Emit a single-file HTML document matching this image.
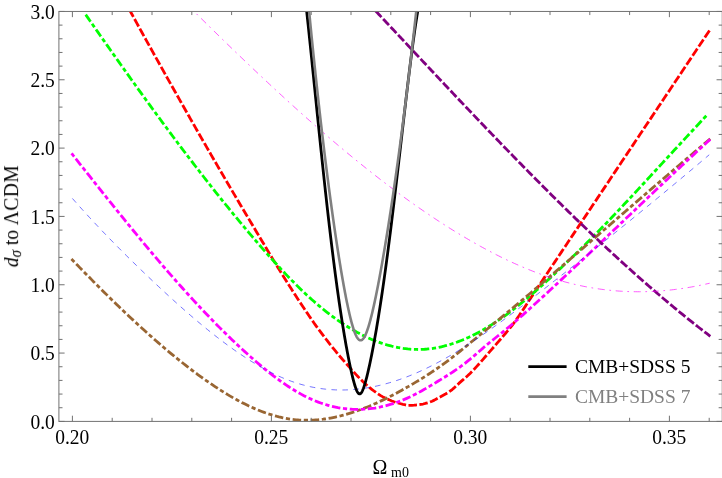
<!DOCTYPE html>
<html><head><meta charset="utf-8"><title>plot</title>
<style>html,body{margin:0;padding:0;background:#fff;}body{width:722px;height:478px;overflow:hidden;}svg{display:block;}text{font-family:"Liberation Serif",serif;fill:#000;}.t{filter:grayscale(1);}</style></head><body>
<svg width="722" height="478" viewBox="0 0 722 478">
<rect width="722" height="478" fill="#fff"/>
<defs><clipPath id="c"><rect x="58.9" y="11.45" width="663.35" height="409.95"/></clipPath></defs>
<g clip-path="url(#c)" fill="none" stroke-linejoin="round">
<path d="M130.38,11.45 L132.62,15.52 L134.85,19.59 L137.09,23.65 L139.32,27.71 L141.56,31.76 L143.79,35.80 L146.03,39.83 L148.26,43.86 L150.50,47.88 L152.73,51.90 L154.97,55.91 L157.20,59.92 L159.43,63.92 L161.67,67.91 L163.90,71.90 L166.14,75.88 L168.37,79.86 L170.61,83.83 L172.84,87.80 L175.08,91.76 L177.31,95.71 L179.55,99.66 L181.78,103.61 L184.02,107.55 L186.25,111.48 L188.49,115.41 L190.72,119.34 L192.96,123.26 L195.19,127.17 L197.43,131.07 L199.66,134.97 L201.90,138.86 L204.13,142.74 L206.37,146.61 L208.60,150.48 L210.84,154.34 L213.07,158.20 L215.31,162.05 L217.54,165.89 L219.77,169.72 L222.01,173.55 L224.24,177.38 L226.48,181.20 L228.71,185.01 L230.95,188.82 L233.18,192.61 L235.42,196.40 L237.65,200.18 L239.89,203.95 L242.12,207.71 L244.36,211.47 L246.59,215.22 L248.83,218.96 L251.06,222.71 L253.30,226.45 L255.53,230.19 L257.77,233.93 L260.00,237.66 L262.24,241.41 L264.47,245.16 L266.71,248.92 L268.94,252.67 L271.18,256.41 L273.41,260.11 L275.65,263.77 L277.88,267.40 L280.11,271.01 L282.35,274.60 L284.58,278.19 L286.82,281.75 L289.05,285.30 L291.29,288.83 L293.52,292.33 L295.76,295.80 L297.99,299.25 L300.23,302.67 L302.46,306.05 L304.70,309.40 L306.93,312.72 L309.17,316.01 L311.40,319.25 L313.64,322.45 L315.87,325.59 L318.11,328.66 L320.34,331.66 L322.58,334.63 L324.81,337.56 L327.05,340.47 L329.28,343.33 L331.52,346.15 L333.75,348.94 L335.99,351.67 L338.22,354.36 L340.46,357.00 L342.69,359.58 L344.92,362.12 L347.16,364.65 L349.39,367.18 L351.63,369.69 L353.86,372.16 L356.10,374.59 L358.33,376.96 L360.57,379.26 L362.80,381.47 L365.04,383.59 L367.27,385.61 L369.51,387.50 L371.74,389.29 L373.98,391.01 L376.21,392.65 L378.45,394.19 L380.68,395.61 L382.92,396.89 L385.15,398.02 L387.39,399.08 L389.62,400.07 L391.86,400.98 L394.09,401.80 L396.33,402.51 L398.56,403.13 L400.80,403.75 L403.03,404.34 L405.26,404.85 L407.50,405.22 L409.73,405.39 L411.97,405.36 L414.20,405.22 L416.44,405.02 L418.67,404.78 L420.91,404.46 L423.14,404.01 L425.38,403.45 L427.61,402.82 L429.85,402.12 L432.08,401.23 L434.32,400.13 L436.55,398.91 L438.79,397.68 L441.02,396.49 L443.26,395.29 L445.49,394.04 L447.73,392.71 L449.96,391.24 L452.20,389.54 L454.43,387.58 L456.67,385.49 L458.90,383.39 L461.14,381.40 L463.37,379.48 L465.60,377.55 L467.84,375.55 L470.07,373.43 L472.31,371.19 L474.54,368.85 L476.78,366.42 L479.01,363.93 L481.25,361.40 L483.48,358.83 L485.72,356.26 L487.95,353.68 L490.19,351.13 L492.42,348.58 L494.66,346.02 L496.89,343.44 L499.13,340.85 L501.36,338.24 L503.60,335.62 L505.83,332.98 L508.07,330.33 L510.30,327.68 L512.54,324.81 L514.77,321.79 L517.01,318.66 L519.24,315.43 L521.48,312.13 L523.71,308.77 L525.94,305.37 L528.18,301.95 L530.41,298.52 L532.65,295.10 L534.88,291.72 L537.12,288.38 L539.35,285.05 L541.59,281.71 L543.82,278.36 L546.06,275.02 L548.29,271.68 L550.53,268.34 L552.76,264.99 L555.00,261.65 L557.23,258.31 L559.47,254.96 L561.70,251.62 L563.94,248.27 L566.17,244.93 L568.41,241.58 L570.64,238.24 L572.88,234.90 L575.11,231.56 L577.35,228.22 L579.58,224.88 L581.82,221.54 L584.05,218.20 L586.29,214.86 L588.52,211.51 L590.75,208.17 L592.99,204.83 L595.22,201.48 L597.46,198.14 L599.69,194.80 L601.93,191.45 L604.16,188.11 L606.40,184.76 L608.63,181.41 L610.87,178.07 L613.10,174.72 L615.34,171.38 L617.57,168.03 L619.81,164.69 L622.04,161.34 L624.28,158.00 L626.51,154.65 L628.75,151.31 L630.98,147.97 L633.22,144.62 L635.45,141.28 L637.69,137.93 L639.92,134.59 L642.16,131.24 L644.39,127.90 L646.63,124.55 L648.86,121.21 L651.09,117.86 L653.33,114.52 L655.56,111.17 L657.80,107.83 L660.03,104.48 L662.27,101.14 L664.50,97.79 L666.74,94.45 L668.97,91.10 L671.21,87.76 L673.44,84.41 L675.68,81.07 L677.91,77.72 L680.15,74.38 L682.38,71.03 L684.62,67.69 L686.85,64.35 L689.09,61.00 L691.32,57.66 L693.56,54.31 L695.79,50.97 L698.03,47.62 L700.26,44.28 L702.50,40.93 L704.73,37.59 L706.97,34.24 L709.20,30.90" stroke="#ff0000" stroke-width="2.8" stroke-linecap="square" stroke-dasharray="5.7 5.25" stroke-dashoffset="0.9"/>
<path d="M83.50,11.45 L85.90,14.91 L88.30,18.37 L90.71,21.83 L93.11,25.28 L95.51,28.72 L97.91,32.16 L100.31,35.60 L102.72,39.03 L105.12,42.46 L107.52,45.88 L109.92,49.30 L112.32,52.71 L114.73,56.11 L117.13,59.51 L119.53,62.91 L121.93,66.29 L124.33,69.67 L126.74,73.05 L129.14,76.42 L131.54,79.78 L133.94,83.13 L136.34,86.48 L138.74,89.82 L141.15,93.16 L143.55,96.48 L145.95,99.80 L148.35,103.11 L150.75,106.41 L153.16,109.71 L155.56,112.99 L157.96,116.27 L160.36,119.54 L162.76,122.80 L165.17,126.05 L167.57,129.29 L169.97,132.53 L172.37,135.75 L174.77,138.97 L177.18,142.17 L179.58,145.37 L181.98,148.55 L184.38,151.73 L186.78,154.89 L189.19,158.05 L191.59,161.19 L193.99,164.32 L196.39,167.45 L198.79,170.56 L201.20,173.66 L203.60,176.75 L206.00,179.83 L208.40,182.89 L210.80,185.95 L213.20,188.99 L215.61,192.02 L218.01,195.04 L220.41,198.04 L222.81,201.03 L225.21,204.01 L227.62,206.98 L230.02,209.94 L232.42,212.88 L234.82,215.81 L237.22,218.72 L239.63,221.62 L242.03,224.51 L244.43,227.38 L246.83,230.24 L249.23,233.09 L251.64,235.92 L254.04,238.73 L256.44,241.53 L258.84,244.32 L261.24,247.09 L263.65,249.84 L266.05,252.57 L268.45,255.29 L270.85,257.98 L273.25,260.65 L275.65,263.29 L278.06,265.92 L280.46,268.51 L282.86,271.08 L285.26,273.63 L287.66,276.14 L290.07,278.62 L292.47,281.08 L294.87,283.50 L297.27,285.88 L299.67,288.24 L302.08,290.55 L304.48,292.83 L306.88,295.08 L309.28,297.28 L311.68,299.45 L314.09,301.57 L316.49,303.65 L318.89,305.69 L321.29,307.69 L323.69,309.64 L326.10,311.55 L328.50,313.42 L330.90,315.25 L333.30,317.03 L335.70,318.77 L338.10,320.46 L340.51,322.11 L342.91,323.72 L345.31,325.28 L347.71,326.80 L350.11,328.27 L352.52,329.70 L354.92,331.08 L357.32,332.41 L359.72,333.70 L362.12,334.94 L364.53,336.13 L366.93,337.27 L369.33,338.37 L371.73,339.41 L374.13,340.41 L376.54,341.36 L378.94,342.25 L381.34,343.10 L383.74,343.90 L386.14,344.64 L388.55,345.33 L390.95,345.97 L393.35,346.56 L395.75,347.10 L398.15,347.58 L400.56,348.01 L402.96,348.38 L405.36,348.70 L407.76,348.97 L410.16,349.18 L412.56,349.33 L414.97,349.43 L417.37,349.48 L419.77,349.46 L422.17,349.39 L424.57,349.26 L426.98,349.07 L429.38,348.83 L431.78,348.53 L434.18,348.17 L436.58,347.76 L438.99,347.29 L441.39,346.77 L443.79,346.20 L446.19,345.57 L448.59,344.90 L451.00,344.17 L453.40,343.39 L455.80,342.56 L458.20,341.68 L460.60,340.75 L463.01,339.78 L465.41,338.75 L467.81,337.69 L470.21,336.57 L472.61,335.41 L475.01,334.21 L477.42,332.96 L479.82,331.67 L482.22,330.33 L484.62,328.96 L487.02,327.54 L489.43,326.08 L491.83,324.58 L494.23,323.05 L496.63,321.47 L499.03,319.85 L501.44,318.20 L503.84,316.51 L506.24,314.78 L508.64,313.02 L511.04,311.22 L513.45,309.39 L515.85,307.52 L518.25,305.63 L520.65,303.70 L523.05,301.74 L525.46,299.76 L527.86,297.74 L530.26,295.70 L532.66,293.64 L535.06,291.55 L537.47,289.45 L539.87,287.32 L542.27,285.17 L544.67,283.00 L547.07,280.82 L549.47,278.62 L551.88,276.40 L554.28,274.17 L556.68,271.93 L559.08,269.68 L561.48,267.42 L563.89,265.15 L566.29,262.87 L568.69,260.58 L571.09,258.28 L573.49,255.97 L575.90,253.65 L578.30,251.32 L580.70,248.97 L583.10,246.61 L585.50,244.24 L587.91,241.85 L590.31,239.46 L592.71,237.04 L595.11,234.61 L597.51,232.17 L599.92,229.72 L602.32,227.25 L604.72,224.77 L607.12,222.28 L609.52,219.78 L611.92,217.27 L614.33,214.75 L616.73,212.22 L619.13,209.68 L621.53,207.14 L623.93,204.58 L626.34,202.02 L628.74,199.45 L631.14,196.88 L633.54,194.30 L635.94,191.71 L638.35,189.12 L640.75,186.53 L643.15,183.93 L645.55,181.33 L647.95,178.72 L650.36,176.12 L652.76,173.51 L655.16,170.90 L657.56,168.29 L659.96,165.69 L662.37,163.08 L664.77,160.47 L667.17,157.87 L669.57,155.26 L671.97,152.66 L674.37,150.06 L676.78,147.47 L679.18,144.87 L681.58,142.28 L683.98,139.69 L686.38,137.11 L688.79,134.52 L691.19,131.95 L693.59,129.37 L695.99,126.80 L698.39,124.23 L700.80,121.66 L703.20,119.10 L705.60,116.54" stroke="#00ff00" stroke-width="2.8" stroke-linecap="square" stroke-dasharray="1.4 5.47 5.7 5.47" stroke-dashoffset="1.6"/>
<path d="M72.40,260.03 L74.86,262.57 L77.32,265.10 L79.78,267.62 L82.23,270.14 L84.69,272.64 L87.15,275.15 L89.61,277.64 L92.07,280.12 L94.53,282.60 L96.99,285.07 L99.45,287.53 L101.90,289.98 L104.36,292.42 L106.82,294.84 L109.28,297.26 L111.74,299.67 L114.20,302.07 L116.66,304.45 L119.12,306.82 L121.57,309.18 L124.03,311.53 L126.49,313.87 L128.95,316.19 L131.41,318.50 L133.87,320.79 L136.33,323.07 L138.78,325.34 L141.24,327.59 L143.70,329.83 L146.16,332.05 L148.62,334.25 L151.08,336.44 L153.54,338.61 L156.00,340.77 L158.45,342.90 L160.91,345.02 L163.37,347.13 L165.83,349.21 L168.29,351.28 L170.75,353.33 L173.21,355.35 L175.66,357.36 L178.12,359.35 L180.58,361.32 L183.04,363.27 L185.50,365.20 L187.96,367.11 L190.42,368.99 L192.88,370.86 L195.33,372.70 L197.79,374.52 L200.25,376.31 L202.71,378.09 L205.17,379.84 L207.63,381.56 L210.09,383.26 L212.55,384.93 L215.00,386.58 L217.46,388.20 L219.92,389.79 L222.38,391.34 L224.84,392.87 L227.30,394.37 L229.76,395.83 L232.21,397.26 L234.67,398.65 L237.13,400.01 L239.59,401.34 L242.05,402.62 L244.51,403.87 L246.97,405.08 L249.43,406.25 L251.88,407.38 L254.34,408.47 L256.80,409.52 L259.26,410.52 L261.72,411.48 L264.18,412.39 L266.64,413.26 L269.09,414.08 L271.55,414.85 L274.01,415.58 L276.47,416.25 L278.93,416.88 L281.39,417.45 L283.85,417.98 L286.31,418.45 L288.76,418.86 L291.22,419.22 L293.68,419.53 L296.14,419.78 L298.60,419.98 L301.06,420.12 L303.52,420.22 L305.98,420.26 L308.43,420.25 L310.89,420.19 L313.35,420.09 L315.81,419.93 L318.27,419.73 L320.73,419.48 L323.19,419.19 L325.64,418.85 L328.10,418.46 L330.56,418.03 L333.02,417.56 L335.48,417.05 L337.94,416.50 L340.40,415.91 L342.86,415.27 L345.31,414.60 L347.77,413.89 L350.23,413.14 L352.69,412.36 L355.15,411.54 L357.61,410.68 L360.07,409.79 L362.53,408.87 L364.98,407.91 L367.44,406.93 L369.90,405.91 L372.36,404.86 L374.82,403.78 L377.28,402.67 L379.74,401.54 L382.19,400.37 L384.65,399.19 L387.11,397.97 L389.57,396.73 L392.03,395.46 L394.49,394.18 L396.95,392.87 L399.41,391.53 L401.86,390.18 L404.32,388.80 L406.78,387.41 L409.24,386.00 L411.70,384.57 L414.16,383.12 L416.62,381.65 L419.07,380.16 L421.53,378.65 L423.99,377.12 L426.45,375.56 L428.91,373.98 L431.37,372.37 L433.83,370.73 L436.29,369.06 L438.74,367.36 L441.20,365.63 L443.66,363.86 L446.12,362.06 L448.58,360.22 L451.04,358.35 L453.50,356.44 L455.96,354.50 L458.41,352.54 L460.87,350.56 L463.33,348.57 L465.79,346.56 L468.25,344.54 L470.71,342.53 L473.17,340.51 L475.62,338.50 L478.08,336.49 L480.54,334.48 L483.00,332.47 L485.46,330.47 L487.92,328.46 L490.38,326.45 L492.84,324.44 L495.29,322.43 L497.75,320.42 L500.21,318.40 L502.67,316.37 L505.13,314.34 L507.59,312.30 L510.05,310.26 L512.51,308.20 L514.96,306.14 L517.42,304.08 L519.88,302.01 L522.34,299.94 L524.80,297.86 L527.26,295.78 L529.72,293.70 L532.17,291.62 L534.63,289.53 L537.09,287.44 L539.55,285.35 L542.01,283.25 L544.47,281.16 L546.93,279.06 L549.39,276.96 L551.84,274.86 L554.30,272.75 L556.76,270.64 L559.22,268.54 L561.68,266.43 L564.14,264.31 L566.60,262.20 L569.05,260.09 L571.51,257.97 L573.97,255.85 L576.43,253.73 L578.89,251.61 L581.35,249.49 L583.81,247.37 L586.27,245.25 L588.72,243.13 L591.18,241.00 L593.64,238.88 L596.10,236.75 L598.56,234.63 L601.02,232.50 L603.48,230.37 L605.94,228.25 L608.39,226.12 L610.85,223.99 L613.31,221.86 L615.77,219.74 L618.23,217.61 L620.69,215.48 L623.15,213.35 L625.60,211.23 L628.06,209.10 L630.52,206.98 L632.98,204.85 L635.44,202.73 L637.90,200.60 L640.36,198.48 L642.82,196.36 L645.27,194.24 L647.73,192.12 L650.19,190.00 L652.65,187.88 L655.11,185.77 L657.57,183.65 L660.03,181.54 L662.48,179.43 L664.94,177.32 L667.40,175.21 L669.86,173.11 L672.32,171.00 L674.78,168.90 L677.24,166.80 L679.70,164.70 L682.15,162.61 L684.61,160.51 L687.07,158.42 L689.53,156.33 L691.99,154.25 L694.45,152.16 L696.91,150.08 L699.37,148.00 L701.82,145.93 L704.28,143.85 L706.74,141.78 L709.20,139.72" stroke="#996633" stroke-width="2.8" stroke-linecap="square" stroke-dasharray="1.4 5.47 5.7 5.47"/>
<path d="M72.40,154.40 L74.86,157.52 L77.32,160.64 L79.78,163.76 L82.23,166.88 L84.69,169.99 L87.15,173.10 L89.61,176.21 L92.07,179.31 L94.53,182.41 L96.99,185.51 L99.45,188.60 L101.90,191.69 L104.36,194.77 L106.82,197.85 L109.28,200.92 L111.74,203.99 L114.20,207.05 L116.66,210.10 L119.12,213.14 L121.57,216.18 L124.03,219.21 L126.49,222.23 L128.95,225.25 L131.41,228.25 L133.87,231.25 L136.33,234.23 L138.78,237.21 L141.24,240.18 L143.70,243.13 L146.16,246.08 L148.62,249.01 L151.08,251.94 L153.54,254.85 L156.00,257.75 L158.45,260.64 L160.91,263.51 L163.37,266.37 L165.83,269.22 L168.29,272.06 L170.75,274.88 L173.21,277.69 L175.66,280.48 L178.12,283.26 L180.58,286.02 L183.04,288.77 L185.50,291.50 L187.96,294.21 L190.42,296.91 L192.88,299.59 L195.33,302.25 L197.79,304.90 L200.25,307.53 L202.71,310.14 L205.17,312.73 L207.63,315.30 L210.09,317.85 L212.55,320.39 L215.00,322.90 L217.46,325.40 L219.92,327.87 L222.38,330.32 L224.84,332.75 L227.30,335.16 L229.76,337.55 L232.21,339.92 L234.67,342.26 L237.13,344.58 L239.59,346.88 L242.05,349.15 L244.51,351.40 L246.97,353.63 L249.43,355.83 L251.88,358.00 L254.34,360.15 L256.80,362.28 L259.26,364.38 L261.72,366.44 L264.18,368.48 L266.64,370.48 L269.09,372.45 L271.55,374.38 L274.01,376.28 L276.47,378.13 L278.93,379.95 L281.39,381.72 L283.85,383.44 L286.31,385.12 L288.76,386.76 L291.22,388.34 L293.68,389.87 L296.14,391.36 L298.60,392.78 L301.06,394.15 L303.52,395.47 L305.98,396.72 L308.43,397.91 L310.89,399.05 L313.35,400.12 L315.81,401.14 L318.27,402.09 L320.73,402.98 L323.19,403.82 L325.64,404.60 L328.10,405.31 L330.56,405.97 L333.02,406.57 L335.48,407.11 L337.94,407.60 L340.40,408.02 L342.86,408.39 L345.31,408.70 L347.77,408.96 L350.23,409.15 L352.69,409.29 L355.15,409.38 L357.61,409.40 L360.07,409.37 L362.53,409.29 L364.98,409.14 L367.44,408.95 L369.90,408.69 L372.36,408.38 L374.82,408.02 L377.28,407.60 L379.74,407.13 L382.19,406.60 L384.65,406.02 L387.11,405.38 L389.57,404.69 L392.03,403.95 L394.49,403.15 L396.95,402.30 L399.41,401.39 L401.86,400.43 L404.32,399.42 L406.78,398.36 L409.24,397.25 L411.70,396.08 L414.16,394.86 L416.62,393.59 L419.07,392.29 L421.53,390.94 L423.99,389.55 L426.45,388.14 L428.91,386.70 L431.37,385.24 L433.83,383.77 L436.29,382.28 L438.74,380.78 L441.20,379.28 L443.66,377.76 L446.12,376.24 L448.58,374.69 L451.04,373.11 L453.50,371.50 L455.96,369.85 L458.41,368.14 L460.87,366.39 L463.33,364.57 L465.79,362.68 L468.25,360.71 L470.71,358.68 L473.17,356.59 L475.62,354.47 L478.08,352.33 L480.54,350.19 L483.00,348.07 L485.46,345.98 L487.92,343.93 L490.38,341.93 L492.84,339.95 L495.29,337.99 L497.75,336.03 L500.21,334.07 L502.67,332.09 L505.13,330.08 L507.59,328.04 L510.05,325.98 L512.51,323.89 L514.96,321.78 L517.42,319.65 L519.88,317.50 L522.34,315.33 L524.80,313.14 L527.26,310.94 L529.72,308.73 L532.17,306.51 L534.63,304.28 L537.09,302.04 L539.55,299.80 L542.01,297.55 L544.47,295.30 L546.93,293.04 L549.39,290.77 L551.84,288.50 L554.30,286.22 L556.76,283.94 L559.22,281.66 L561.68,279.37 L564.14,277.08 L566.60,274.78 L569.05,272.48 L571.51,270.17 L573.97,267.86 L576.43,265.55 L578.89,263.24 L581.35,260.92 L583.81,258.60 L586.27,256.27 L588.72,253.94 L591.18,251.61 L593.64,249.28 L596.10,246.95 L598.56,244.61 L601.02,242.28 L603.48,239.94 L605.94,237.60 L608.39,235.26 L610.85,232.91 L613.31,230.57 L615.77,228.23 L618.23,225.88 L620.69,223.54 L623.15,221.19 L625.60,218.85 L628.06,216.50 L630.52,214.16 L632.98,211.82 L635.44,209.47 L637.90,207.13 L640.36,204.79 L642.82,202.45 L645.27,200.11 L647.73,197.77 L650.19,195.44 L652.65,193.10 L655.11,190.77 L657.57,188.44 L660.03,186.12 L662.48,183.79 L664.94,181.47 L667.40,179.15 L669.86,176.84 L672.32,174.52 L674.78,172.21 L677.24,169.91 L679.70,167.61 L682.15,165.31 L684.61,163.02 L687.07,160.73 L689.53,158.44 L691.99,156.16 L694.45,153.89 L696.91,151.62 L699.37,149.35 L701.82,147.09 L704.28,144.84 L706.74,142.59 L709.20,140.35" stroke="#ff00ff" stroke-width="2.8" stroke-linecap="square" stroke-dasharray="1.4 5.47 5.7 5.47"/>
<path d="M72.40,198.46 L74.86,201.24 L77.32,204.01 L79.78,206.75 L82.23,209.48 L84.69,212.19 L87.15,214.88 L89.61,217.55 L92.07,220.20 L94.53,222.84 L96.99,225.45 L99.45,228.06 L101.90,230.64 L104.36,233.21 L106.82,235.77 L109.28,238.30 L111.74,240.83 L114.20,243.34 L116.66,245.83 L119.12,248.32 L121.57,250.78 L124.03,253.24 L126.49,255.68 L128.95,258.11 L131.41,260.53 L133.87,262.94 L136.33,265.33 L138.78,267.71 L141.24,270.09 L143.70,272.45 L146.16,274.81 L148.62,277.15 L151.08,279.49 L153.54,281.81 L156.00,284.13 L158.45,286.43 L160.91,288.73 L163.37,291.02 L165.83,293.29 L168.29,295.55 L170.75,297.80 L173.21,300.04 L175.66,302.26 L178.12,304.47 L180.58,306.66 L183.04,308.84 L185.50,311.01 L187.96,313.15 L190.42,315.29 L192.88,317.40 L195.33,319.50 L197.79,321.58 L200.25,323.64 L202.71,325.68 L205.17,327.70 L207.63,329.70 L210.09,331.68 L212.55,333.64 L215.00,335.58 L217.46,337.49 L219.92,339.38 L222.38,341.25 L224.84,343.10 L227.30,344.92 L229.76,346.72 L232.21,348.49 L234.67,350.24 L237.13,351.96 L239.59,353.65 L242.05,355.31 L244.51,356.95 L246.97,358.55 L249.43,360.12 L251.88,361.66 L254.34,363.17 L256.80,364.64 L259.26,366.08 L261.72,367.48 L264.18,368.85 L266.64,370.18 L269.09,371.47 L271.55,372.72 L274.01,373.93 L276.47,375.10 L278.93,376.23 L281.39,377.32 L283.85,378.36 L286.31,379.36 L288.76,380.31 L291.22,381.22 L293.68,382.08 L296.14,382.89 L298.60,383.66 L301.06,384.38 L303.52,385.06 L305.98,385.69 L308.43,386.28 L310.89,386.82 L313.35,387.32 L315.81,387.77 L318.27,388.19 L320.73,388.55 L323.19,388.88 L325.64,389.16 L328.10,389.40 L330.56,389.60 L333.02,389.76 L335.48,389.88 L337.94,389.96 L340.40,389.99 L342.86,389.99 L345.31,389.95 L347.77,389.86 L350.23,389.74 L352.69,389.58 L355.15,389.38 L357.61,389.14 L360.07,388.87 L362.53,388.55 L364.98,388.20 L367.44,387.81 L369.90,387.39 L372.36,386.93 L374.82,386.44 L377.28,385.90 L379.74,385.34 L382.19,384.74 L384.65,384.10 L387.11,383.43 L389.57,382.73 L392.03,381.99 L394.49,381.22 L396.95,380.41 L399.41,379.58 L401.86,378.71 L404.32,377.81 L406.78,376.88 L409.24,375.91 L411.70,374.92 L414.16,373.89 L416.62,372.84 L419.07,371.75 L421.53,370.64 L423.99,369.49 L426.45,368.32 L428.91,367.12 L431.37,365.89 L433.83,364.63 L436.29,363.35 L438.74,362.04 L441.20,360.70 L443.66,359.34 L446.12,357.95 L448.58,356.54 L451.04,355.11 L453.50,353.65 L455.96,352.17 L458.41,350.67 L460.87,349.15 L463.33,347.60 L465.79,346.04 L468.25,344.46 L470.71,342.85 L473.17,341.23 L475.62,339.59 L478.08,337.94 L480.54,336.26 L483.00,334.57 L485.46,332.87 L487.92,331.15 L490.38,329.41 L492.84,327.66 L495.29,325.90 L497.75,324.13 L500.21,322.34 L502.67,320.54 L505.13,318.73 L507.59,316.90 L510.05,315.07 L512.51,313.23 L514.96,311.38 L517.42,309.52 L519.88,307.65 L522.34,305.78 L524.80,303.90 L527.26,302.01 L529.72,300.12 L532.17,298.22 L534.63,296.31 L537.09,294.41 L539.55,292.50 L542.01,290.58 L544.47,288.67 L546.93,286.75 L549.39,284.83 L551.84,282.91 L554.30,280.98 L556.76,279.06 L559.22,277.13 L561.68,275.20 L564.14,273.27 L566.60,271.33 L569.05,269.39 L571.51,267.46 L573.97,265.51 L576.43,263.57 L578.89,261.62 L581.35,259.68 L583.81,257.73 L586.27,255.77 L588.72,253.82 L591.18,251.86 L593.64,249.90 L596.10,247.94 L598.56,245.97 L601.02,244.01 L603.48,242.04 L605.94,240.07 L608.39,238.09 L610.85,236.12 L613.31,234.14 L615.77,232.15 L618.23,230.17 L620.69,228.18 L623.15,226.19 L625.60,224.20 L628.06,222.21 L630.52,220.21 L632.98,218.21 L635.44,216.21 L637.90,214.20 L640.36,212.19 L642.82,210.18 L645.27,208.17 L647.73,206.15 L650.19,204.13 L652.65,202.11 L655.11,200.09 L657.57,198.06 L660.03,196.03 L662.48,194.00 L664.94,191.96 L667.40,189.92 L669.86,187.88 L672.32,185.83 L674.78,183.78 L677.24,181.73 L679.70,179.68 L682.15,177.62 L684.61,175.56 L687.07,173.50 L689.53,171.43 L691.99,169.36 L694.45,167.29 L696.91,165.22 L699.37,163.14 L701.82,161.05 L704.28,158.97 L706.74,156.88 L709.20,154.79" stroke="#0000ff" stroke-width="0.55" stroke-linecap="butt" stroke-dasharray="5.6 5.35"/>
<path d="M376.12,11.45 L377.41,12.82 L378.69,14.19 L379.98,15.56 L381.27,16.93 L382.55,18.31 L383.84,19.68 L385.12,21.05 L386.41,22.42 L387.70,23.79 L388.98,25.17 L390.27,26.54 L391.55,27.91 L392.84,29.28 L394.13,30.66 L395.41,32.03 L396.70,33.40 L397.98,34.77 L399.27,36.15 L400.56,37.52 L401.84,38.89 L403.13,40.26 L404.41,41.64 L405.70,43.01 L406.99,44.38 L408.27,45.75 L409.56,47.13 L410.84,48.50 L412.13,49.87 L413.42,51.24 L414.70,52.61 L415.99,53.99 L417.27,55.36 L418.56,56.73 L419.85,58.10 L421.13,59.47 L422.42,60.84 L423.70,62.21 L424.99,63.58 L426.28,64.95 L427.56,66.32 L428.85,67.69 L430.13,69.06 L431.42,70.43 L432.71,71.79 L433.99,73.16 L435.28,74.53 L436.56,75.90 L437.85,77.26 L439.14,78.63 L440.42,79.99 L441.71,81.36 L442.99,82.72 L444.28,84.09 L445.57,85.45 L446.85,86.82 L448.14,88.18 L449.42,89.54 L450.71,90.90 L452.00,92.27 L453.28,93.63 L454.57,94.99 L455.85,96.35 L457.14,97.70 L458.43,99.06 L459.71,100.42 L461.00,101.78 L462.28,103.13 L463.57,104.49 L464.86,105.85 L466.14,107.20 L467.43,108.55 L468.71,109.91 L470.00,111.26 L471.29,112.61 L472.57,113.96 L473.86,115.31 L475.14,116.66 L476.43,118.01 L477.72,119.36 L479.00,120.70 L480.29,122.05 L481.57,123.40 L482.86,124.74 L484.15,126.08 L485.43,127.43 L486.72,128.77 L488.00,130.11 L489.29,131.45 L490.58,132.79 L491.86,134.12 L493.15,135.46 L494.44,136.80 L495.72,138.13 L497.01,139.47 L498.29,140.80 L499.58,142.13 L500.87,143.46 L502.15,144.79 L503.44,146.12 L504.72,147.45 L506.01,148.77 L507.30,150.10 L508.58,151.42 L509.87,152.75 L511.15,154.07 L512.44,155.39 L513.73,156.71 L515.01,158.03 L516.30,159.34 L517.58,160.66 L518.87,161.97 L520.16,163.29 L521.44,164.60 L522.73,165.91 L524.01,167.22 L525.30,168.53 L526.59,169.83 L527.87,171.14 L529.16,172.44 L530.44,173.75 L531.73,175.05 L533.02,176.35 L534.30,177.65 L535.59,178.94 L536.87,180.24 L538.16,181.53 L539.45,182.83 L540.73,184.12 L542.02,185.41 L543.30,186.70 L544.59,187.98 L545.88,189.27 L547.16,190.55 L548.45,191.83 L549.73,193.12 L551.02,194.39 L552.31,195.67 L553.59,196.95 L554.88,198.22 L556.16,199.50 L557.45,200.77 L558.74,202.04 L560.02,203.30 L561.31,204.57 L562.59,205.83 L563.88,207.10 L565.17,208.36 L566.45,209.62 L567.74,210.87 L569.02,212.13 L570.31,213.38 L571.60,214.64 L572.88,215.89 L574.17,217.13 L575.45,218.38 L576.74,219.63 L578.03,220.87 L579.31,222.11 L580.60,223.35 L581.88,224.59 L583.17,225.82 L584.46,227.05 L585.74,228.29 L587.03,229.52 L588.31,230.74 L589.60,231.97 L590.89,233.19 L592.17,234.41 L593.46,235.63 L594.74,236.85 L596.03,238.07 L597.32,239.28 L598.60,240.49 L599.89,241.70 L601.17,242.91 L602.46,244.11 L603.75,245.32 L605.03,246.52 L606.32,247.72 L607.60,248.91 L608.89,250.11 L610.18,251.30 L611.46,252.49 L612.75,253.68 L614.03,254.86 L615.32,256.04 L616.61,257.23 L617.89,258.40 L619.18,259.58 L620.46,260.75 L621.75,261.93 L623.04,263.10 L624.32,264.26 L625.61,265.43 L626.89,266.59 L628.18,267.75 L629.47,268.91 L630.75,270.06 L632.04,271.21 L633.32,272.37 L634.61,273.51 L635.90,274.66 L637.18,275.80 L638.47,276.94 L639.76,278.08 L641.04,279.21 L642.33,280.35 L643.61,281.48 L644.90,282.61 L646.19,283.73 L647.47,284.85 L648.76,285.97 L650.04,287.09 L651.33,288.21 L652.62,289.32 L653.90,290.43 L655.19,291.53 L656.47,292.64 L657.76,293.74 L659.05,294.84 L660.33,295.93 L661.62,297.03 L662.90,298.12 L664.19,299.21 L665.48,300.29 L666.76,301.37 L668.05,302.45 L669.33,303.53 L670.62,304.60 L671.91,305.67 L673.19,306.74 L674.48,307.81 L675.76,308.87 L677.05,309.93 L678.34,310.99 L679.62,312.04 L680.91,313.09 L682.19,314.14 L683.48,315.18 L684.77,316.22 L686.05,317.26 L687.34,318.30 L688.62,319.33 L689.91,320.36 L691.20,321.39 L692.48,322.41 L693.77,323.43 L695.05,324.45 L696.34,325.46 L697.63,326.48 L698.91,327.48 L700.20,328.49 L701.48,329.49 L702.77,330.49 L704.06,331.49 L705.34,332.48 L706.63,333.47 L707.91,334.45 L709.20,335.44" stroke="#800080" stroke-width="2.8" stroke-linecap="square" stroke-dasharray="5.7 5.25" stroke-dashoffset="-0.7"/>
<path d="M194.08,11.45 L196.07,13.42 L198.05,15.39 L200.04,17.35 L202.03,19.31 L204.02,21.27 L206.01,23.23 L208.00,25.19 L209.99,27.14 L211.98,29.09 L213.97,31.04 L215.95,32.99 L217.94,34.93 L219.93,36.87 L221.92,38.81 L223.91,40.74 L225.90,42.68 L227.89,44.61 L229.88,46.53 L231.87,48.46 L233.85,50.38 L235.84,52.29 L237.83,54.21 L239.82,56.12 L241.81,58.02 L243.80,59.93 L245.79,61.83 L247.78,63.73 L249.77,65.62 L251.75,67.51 L253.74,69.40 L255.73,71.28 L257.72,73.16 L259.71,75.03 L261.70,76.90 L263.69,78.77 L265.68,80.63 L267.67,82.49 L269.65,84.35 L271.64,86.20 L273.63,88.05 L275.62,89.89 L277.61,91.73 L279.60,93.56 L281.59,95.39 L283.58,97.21 L285.57,99.04 L287.55,100.85 L289.54,102.66 L291.53,104.47 L293.52,106.27 L295.51,108.07 L297.50,109.86 L299.49,111.65 L301.48,113.43 L303.47,115.20 L305.45,116.98 L307.44,118.74 L309.43,120.50 L311.42,122.26 L313.41,124.01 L315.40,125.76 L317.39,127.50 L319.38,129.23 L321.37,130.96 L323.35,132.68 L325.34,134.40 L327.33,136.11 L329.32,137.82 L331.31,139.52 L333.30,141.22 L335.29,142.90 L337.28,144.59 L339.27,146.26 L341.25,147.93 L343.24,149.60 L345.23,151.26 L347.22,152.91 L349.21,154.55 L351.20,156.19 L353.19,157.82 L355.18,159.45 L357.17,161.07 L359.15,162.68 L361.14,164.29 L363.13,165.89 L365.12,167.48 L367.11,169.07 L369.10,170.65 L371.09,172.22 L373.08,173.78 L375.07,175.34 L377.05,176.89 L379.04,178.44 L381.03,179.97 L383.02,181.50 L385.01,183.02 L387.00,184.54 L388.99,186.04 L390.98,187.54 L392.97,189.03 L394.95,190.52 L396.94,192.00 L398.93,193.46 L400.92,194.93 L402.91,196.38 L404.90,197.82 L406.89,199.26 L408.88,200.69 L410.87,202.11 L412.85,203.52 L414.84,204.93 L416.83,206.33 L418.82,207.71 L420.81,209.09 L422.80,210.47 L424.79,211.83 L426.78,213.18 L428.77,214.53 L430.75,215.87 L432.74,217.20 L434.73,218.51 L436.72,219.83 L438.71,221.13 L440.70,222.42 L442.69,223.71 L444.68,224.98 L446.67,226.25 L448.65,227.50 L450.64,228.75 L452.63,229.99 L454.62,231.22 L456.61,232.44 L458.60,233.65 L460.59,234.85 L462.58,236.04 L464.57,237.23 L466.56,238.40 L468.54,239.56 L470.53,240.71 L472.52,241.86 L474.51,242.99 L476.50,244.11 L478.49,245.22 L480.48,246.33 L482.47,247.42 L484.46,248.50 L486.44,249.57 L488.43,250.63 L490.42,251.68 L492.41,252.72 L494.40,253.74 L496.39,254.76 L498.38,255.76 L500.37,256.76 L502.36,257.74 L504.34,258.71 L506.33,259.66 L508.32,260.61 L510.31,261.54 L512.30,262.46 L514.29,263.37 L516.28,264.26 L518.27,265.14 L520.26,266.01 L522.24,266.87 L524.23,267.71 L526.22,268.54 L528.21,269.36 L530.20,270.17 L532.19,270.96 L534.18,271.73 L536.17,272.49 L538.16,273.24 L540.14,273.98 L542.13,274.70 L544.12,275.40 L546.11,276.09 L548.10,276.77 L550.09,277.43 L552.08,278.08 L554.07,278.71 L556.06,279.33 L558.04,279.93 L560.03,280.52 L562.02,281.09 L564.01,281.65 L566.00,282.19 L567.99,282.71 L569.98,283.22 L571.97,283.72 L573.96,284.19 L575.94,284.66 L577.93,285.11 L579.92,285.54 L581.91,285.96 L583.90,286.36 L585.89,286.75 L587.88,287.13 L589.87,287.49 L591.86,287.83 L593.84,288.16 L595.83,288.47 L597.82,288.77 L599.81,289.06 L601.80,289.33 L603.79,289.58 L605.78,289.83 L607.77,290.05 L609.76,290.27 L611.74,290.46 L613.73,290.65 L615.72,290.82 L617.71,290.97 L619.70,291.11 L621.69,291.24 L623.68,291.35 L625.67,291.45 L627.66,291.53 L629.64,291.60 L631.63,291.66 L633.62,291.70 L635.61,291.73 L637.60,291.74 L639.59,291.74 L641.58,291.73 L643.57,291.70 L645.56,291.66 L647.54,291.60 L649.53,291.53 L651.52,291.45 L653.51,291.36 L655.50,291.25 L657.49,291.12 L659.48,290.99 L661.47,290.84 L663.46,290.67 L665.44,290.50 L667.43,290.31 L669.42,290.10 L671.41,289.89 L673.40,289.66 L675.39,289.42 L677.38,289.16 L679.37,288.89 L681.36,288.61 L683.34,288.31 L685.33,288.01 L687.32,287.69 L689.31,287.35 L691.30,287.01 L693.29,286.65 L695.28,286.28 L697.27,285.89 L699.26,285.50 L701.24,285.09 L703.23,284.66 L705.22,284.23 L707.21,283.78 L709.20,283.32" stroke="#ff00ff" stroke-width="0.65" stroke-linecap="square" stroke-dasharray="0.7 5.67 6.0 5.67" stroke-dashoffset="-4.0"/>
<path d="M306.37,8.45 L306.68,11.33 L306.99,14.23 L307.30,17.13 L307.61,20.05 L307.93,22.99 L308.24,25.93 L308.55,28.89 L308.86,31.86 L309.17,34.83 L309.48,37.82 L309.80,40.81 L310.11,43.81 L310.42,46.82 L310.73,49.84 L311.04,52.86 L311.35,55.89 L311.67,58.92 L311.98,61.96 L312.29,65.00 L312.60,68.05 L312.91,71.09 L313.22,74.15 L313.53,77.20 L313.85,80.26 L314.16,83.31 L314.47,86.37 L314.78,89.43 L315.09,92.48 L315.40,95.54 L315.72,98.60 L316.03,101.65 L316.34,104.70 L316.65,107.75 L316.96,110.80 L317.27,113.85 L317.58,116.89 L317.90,119.92 L318.21,122.96 L318.52,125.98 L318.83,129.01 L319.14,132.02 L319.45,135.04 L319.77,138.04 L320.08,141.04 L320.39,144.03 L320.70,147.02 L321.01,150.00 L321.32,152.97 L321.64,155.93 L321.95,158.88 L322.26,161.83 L322.57,164.76 L322.88,167.69 L323.19,170.61 L323.50,173.51 L323.82,176.41 L324.13,179.30 L324.44,182.17 L324.75,185.04 L325.06,187.89 L325.37,190.73 L325.69,193.56 L326.00,196.38 L326.31,199.19 L326.62,201.98 L326.93,204.76 L327.24,207.53 L327.56,210.29 L327.87,213.03 L328.18,215.76 L328.49,218.47 L328.80,221.17 L329.11,223.86 L329.42,226.53 L329.74,229.19 L330.05,231.83 L330.36,234.46 L330.67,237.07 L330.98,239.67 L331.29,242.25 L331.61,244.82 L331.92,247.37 L332.23,249.90 L332.54,252.42 L332.85,254.93 L333.16,257.41 L333.47,259.88 L333.79,262.34 L334.10,264.78 L334.41,267.20 L334.72,269.60 L335.03,271.99 L335.34,274.36 L335.66,276.71 L335.97,279.05 L336.28,281.37 L336.59,283.67 L336.90,285.95 L337.21,288.22 L337.53,290.47 L337.84,292.70 L338.15,294.92 L338.46,297.11 L338.77,299.29 L339.08,301.45 L339.39,303.59 L339.71,305.72 L340.02,307.83 L340.33,309.92 L340.64,311.99 L340.95,314.04 L341.26,316.07 L341.58,318.09 L341.89,320.09 L342.20,322.07 L342.51,324.03 L342.82,325.97 L343.13,327.90 L343.45,329.80 L343.76,331.69 L344.07,333.56 L344.38,335.41 L344.69,337.25 L345.00,339.06 L345.31,340.85 L345.63,342.63 L345.94,344.39 L346.25,346.13 L346.56,347.85 L346.87,349.55 L347.18,351.23 L347.50,352.89 L347.81,354.53 L348.12,356.15 L348.43,357.76 L348.74,359.34 L349.05,360.90 L349.36,362.44 L349.68,363.96 L349.99,365.45 L350.30,366.93 L350.61,368.38 L350.92,369.81 L351.23,371.21 L351.55,372.59 L351.86,373.94 L352.17,375.26 L352.48,376.56 L352.79,377.83 L353.10,379.07 L353.42,380.27 L353.73,381.45 L354.04,382.58 L354.35,383.68 L354.66,384.74 L354.97,385.76 L355.28,386.73 L355.60,387.66 L355.91,388.53 L356.22,389.35 L356.53,390.12 L356.84,390.82 L357.15,391.46 L357.47,392.04 L357.78,392.54 L358.09,392.97 L358.40,393.33 L358.71,393.61 L359.02,393.80 L359.33,393.92 L359.65,393.95 L359.96,393.91 L360.27,393.78 L360.58,393.57 L360.89,393.28 L361.20,392.91 L361.52,392.47 L361.83,391.96 L362.14,391.39 L362.45,390.75 L362.76,390.04 L363.07,389.29 L363.39,388.47 L363.70,387.61 L364.01,386.70 L364.32,385.75 L364.63,384.75 L364.94,383.72 L365.25,382.65 L365.57,381.54 L365.88,380.40 L366.19,379.23 L366.50,378.04 L366.81,376.81 L367.12,375.56 L367.44,374.28 L367.75,372.97 L368.06,371.65 L368.37,370.30 L368.68,368.93 L368.99,367.54 L369.31,366.12 L369.62,364.69 L369.93,363.24 L370.24,361.77 L370.55,360.28 L370.86,358.77 L371.17,357.24 L371.49,355.70 L371.80,354.14 L372.11,352.56 L372.42,350.96 L372.73,349.34 L373.04,347.71 L373.36,346.06 L373.67,344.40 L373.98,342.71 L374.29,341.02 L374.60,339.30 L374.91,337.57 L375.22,335.82 L375.54,334.05 L375.85,332.27 L376.16,330.47 L376.47,328.66 L376.78,326.82 L377.09,324.98 L377.41,323.11 L377.72,321.23 L378.03,319.34 L378.34,317.42 L378.65,315.50 L378.96,313.55 L379.28,311.59 L379.59,309.61 L379.90,307.62 L380.21,305.61 L380.52,303.59 L380.83,301.55 L381.14,299.49 L381.46,297.42 L381.77,295.33 L382.08,293.23 L382.39,291.11 L382.70,288.98 L383.01,286.83 L383.33,284.66 L383.64,282.48 L383.95,280.29 L384.26,278.08 L384.57,275.85 L384.88,273.61 L385.20,271.36 L385.51,269.09 L385.82,266.81 L386.13,264.52 L386.44,262.20 L386.75,259.88 L387.06,257.54 L387.38,255.19 L387.69,252.83 L388.00,250.45 L388.31,248.06 L388.62,245.65 L388.93,243.24 L389.25,240.81 L389.56,238.37 L389.87,235.91 L390.18,233.45 L390.49,230.97 L390.80,228.48 L391.11,225.98 L391.43,223.47 L391.74,220.95 L392.05,218.42 L392.36,215.87 L392.67,213.32 L392.98,210.76 L393.30,208.19 L393.61,205.61 L393.92,203.02 L394.23,200.42 L394.54,197.81 L394.85,195.20 L395.17,192.58 L395.48,189.95 L395.79,187.31 L396.10,184.66 L396.41,182.01 L396.72,179.36 L397.03,176.70 L397.35,174.03 L397.66,171.35 L397.97,168.68 L398.28,166.00 L398.59,163.31 L398.90,160.62 L399.22,157.93 L399.53,155.23 L399.84,152.53 L400.15,149.83 L400.46,147.13 L400.77,144.43 L401.08,141.72 L401.40,139.02 L401.71,136.32 L402.02,133.61 L402.33,130.91 L402.64,128.21 L402.95,125.51 L403.27,122.82 L403.58,120.12 L403.89,117.43 L404.20,114.75 L404.51,112.07 L404.82,109.39 L405.14,106.72 L405.45,104.06 L405.76,101.40 L406.07,98.75 L406.38,96.11 L406.69,93.47 L407.00,90.85 L407.32,88.23 L407.63,85.63 L407.94,83.03 L408.25,80.45 L408.56,77.88 L408.87,75.32 L409.19,72.78 L409.50,70.25 L409.81,67.73 L410.12,65.23 L410.43,62.75 L410.74,60.29 L411.06,57.84 L411.37,55.41 L411.68,53.00 L411.99,50.61 L412.30,48.24 L412.61,45.89 L412.92,43.57 L413.24,41.27 L413.55,38.99 L413.86,36.74 L414.17,34.52 L414.48,32.32 L414.79,30.15 L415.11,28.01 L415.42,25.91 L415.73,23.83 L416.04,21.78 L416.35,19.77 L416.66,17.79 L416.97,15.85 L417.29,13.94 L417.60,12.07 L417.91,10.24 L418.22,8.45" stroke="#000000" stroke-width="2.8" stroke-linecap="butt"/>
<path d="M308.84,8.45 L309.14,11.55 L309.44,14.63 L309.74,17.70 L310.04,20.76 L310.34,23.80 L310.64,26.83 L310.94,29.85 L311.24,32.86 L311.54,35.85 L311.84,38.83 L312.14,41.79 L312.44,44.75 L312.74,47.69 L313.04,50.61 L313.34,53.53 L313.64,56.43 L313.94,59.32 L314.24,62.20 L314.54,65.06 L314.84,67.91 L315.14,70.75 L315.44,73.57 L315.74,76.39 L316.04,79.19 L316.34,81.97 L316.64,84.75 L316.94,87.51 L317.24,90.26 L317.54,93.00 L317.84,95.72 L318.14,98.44 L318.44,101.14 L318.74,103.83 L319.04,106.50 L319.34,109.17 L319.64,111.82 L319.94,114.46 L320.24,117.08 L320.54,119.70 L320.84,122.30 L321.14,124.89 L321.44,127.47 L321.74,130.04 L322.04,132.59 L322.34,135.14 L322.64,137.67 L322.94,140.19 L323.24,142.69 L323.54,145.19 L323.84,147.67 L324.14,150.14 L324.44,152.60 L324.74,155.05 L325.04,157.48 L325.34,159.91 L325.64,162.32 L325.95,164.72 L326.25,167.11 L326.55,169.49 L326.85,171.85 L327.15,174.20 L327.45,176.55 L327.75,178.88 L328.05,181.20 L328.35,183.50 L328.65,185.80 L328.95,188.08 L329.25,190.35 L329.55,192.61 L329.85,194.86 L330.15,197.10 L330.45,199.32 L330.75,201.54 L331.05,203.74 L331.35,205.93 L331.65,208.11 L331.95,210.28 L332.25,212.43 L332.55,214.58 L332.85,216.71 L333.15,218.83 L333.45,220.94 L333.75,223.03 L334.05,225.12 L334.35,227.19 L334.65,229.25 L334.95,231.30 L335.25,233.34 L335.55,235.36 L335.85,237.38 L336.15,239.38 L336.45,241.37 L336.75,243.34 L337.05,245.31 L337.35,247.26 L337.65,249.20 L337.95,251.12 L338.25,253.04 L338.55,254.94 L338.85,256.83 L339.15,258.70 L339.45,260.57 L339.75,262.41 L340.05,264.25 L340.35,266.07 L340.65,267.88 L340.95,269.68 L341.25,271.46 L341.55,273.23 L341.85,274.98 L342.15,276.72 L342.45,278.44 L342.75,280.15 L343.05,281.85 L343.35,283.53 L343.65,285.19 L343.95,286.84 L344.25,288.47 L344.55,290.09 L344.85,291.69 L345.15,293.27 L345.45,294.84 L345.75,296.39 L346.05,297.92 L346.35,299.43 L346.65,300.92 L346.95,302.40 L347.25,303.86 L347.55,305.29 L347.85,306.71 L348.15,308.10 L348.45,309.48 L348.75,310.83 L349.05,312.16 L349.35,313.47 L349.65,314.76 L349.95,316.02 L350.25,317.26 L350.55,318.47 L350.85,319.66 L351.15,320.82 L351.45,321.96 L351.75,323.07 L352.05,324.15 L352.35,325.20 L352.65,326.22 L352.95,327.22 L353.25,328.18 L353.55,329.11 L353.85,330.01 L354.15,330.87 L354.45,331.70 L354.75,332.50 L355.05,333.26 L355.35,333.99 L355.65,334.68 L355.95,335.33 L356.25,335.95 L356.55,336.52 L356.85,337.06 L357.15,337.56 L357.45,338.02 L357.76,338.43 L358.06,338.81 L358.36,339.14 L358.66,339.44 L358.96,339.69 L359.26,339.90 L359.56,340.06 L359.86,340.18 L360.16,340.26 L360.46,340.30 L360.76,340.29 L361.06,340.25 L361.36,340.15 L361.66,340.02 L361.96,339.84 L362.26,339.62 L362.56,339.36 L362.86,339.06 L363.16,338.72 L363.46,338.34 L363.76,337.92 L364.06,337.46 L364.36,336.96 L364.66,336.42 L364.96,335.85 L365.26,335.24 L365.56,334.60 L365.86,333.92 L366.16,333.20 L366.46,332.46 L366.76,331.68 L367.06,330.87 L367.36,330.03 L367.66,329.15 L367.96,328.25 L368.26,327.32 L368.56,326.36 L368.86,325.38 L369.16,324.37 L369.46,323.33 L369.76,322.27 L370.06,321.18 L370.36,320.07 L370.66,318.94 L370.96,317.78 L371.26,316.61 L371.56,315.41 L371.86,314.19 L372.16,312.95 L372.46,311.69 L372.76,310.42 L373.06,309.12 L373.36,307.81 L373.66,306.47 L373.96,305.13 L374.26,303.76 L374.56,302.38 L374.86,300.98 L375.16,299.57 L375.46,298.14 L375.76,296.70 L376.06,295.24 L376.36,293.77 L376.66,292.28 L376.96,290.78 L377.26,289.27 L377.56,287.75 L377.86,286.21 L378.16,284.66 L378.46,283.09 L378.76,281.52 L379.06,279.93 L379.36,278.33 L379.66,276.72 L379.96,275.10 L380.26,273.47 L380.56,271.82 L380.86,270.17 L381.16,268.50 L381.46,266.83 L381.76,265.14 L382.06,263.44 L382.36,261.74 L382.66,260.02 L382.96,258.29 L383.26,256.55 L383.56,254.81 L383.86,253.05 L384.16,251.28 L384.46,249.51 L384.76,247.72 L385.06,245.93 L385.36,244.12 L385.66,242.31 L385.96,240.49 L386.26,238.66 L386.56,236.82 L386.86,234.97 L387.16,233.11 L387.46,231.24 L387.76,229.36 L388.06,227.48 L388.36,225.59 L388.66,223.68 L388.96,221.77 L389.26,219.85 L389.57,217.92 L389.87,215.98 L390.17,214.04 L390.47,212.08 L390.77,210.12 L391.07,208.14 L391.37,206.16 L391.67,204.17 L391.97,202.17 L392.27,200.17 L392.57,198.15 L392.87,196.13 L393.17,194.09 L393.47,192.05 L393.77,190.00 L394.07,187.94 L394.37,185.88 L394.67,183.80 L394.97,181.72 L395.27,179.62 L395.57,177.52 L395.87,175.41 L396.17,173.29 L396.47,171.17 L396.77,169.03 L397.07,166.89 L397.37,164.73 L397.67,162.57 L397.97,160.40 L398.27,158.22 L398.57,156.03 L398.87,153.84 L399.17,151.63 L399.47,149.42 L399.77,147.20 L400.07,144.97 L400.37,142.73 L400.67,140.48 L400.97,138.22 L401.27,135.95 L401.57,133.68 L401.87,131.40 L402.17,129.10 L402.47,126.80 L402.77,124.49 L403.07,122.17 L403.37,119.85 L403.67,117.51 L403.97,115.16 L404.27,112.81 L404.57,110.45 L404.87,108.07 L405.17,105.69 L405.47,103.30 L405.77,100.90 L406.07,98.50 L406.37,96.08 L406.67,93.65 L406.97,91.22 L407.27,88.77 L407.57,86.32 L407.87,83.86 L408.17,81.39 L408.47,78.91 L408.77,76.42 L409.07,73.92 L409.37,71.41 L409.67,68.89 L409.97,66.37 L410.27,63.83 L410.57,61.29 L410.87,58.74 L411.17,56.17 L411.47,53.60 L411.77,51.02 L412.07,48.43 L412.37,45.83 L412.67,43.22 L412.97,40.60 L413.27,37.97 L413.57,35.34 L413.87,32.69 L414.17,30.03 L414.47,27.37 L414.77,24.69 L415.07,22.01 L415.37,19.32 L415.67,16.61 L415.97,13.90 L416.27,11.18 L416.57,8.45" stroke="#808080" stroke-width="2.6" stroke-linecap="butt"/>
</g>
<g stroke="#727272" stroke-width="1" fill="none" shape-rendering="auto">
<rect x="58.9" y="11.45" width="663.35" height="409.95"/>
<path d="M72.40,421.4v-5.7M72.40,11.45v5.7M112.20,421.4v-3.6M112.20,11.45v3.6M152.00,421.4v-3.6M152.00,11.45v3.6M191.80,421.4v-3.6M191.80,11.45v3.6M231.60,421.4v-3.6M231.60,11.45v3.6M271.40,421.4v-5.7M271.40,11.45v5.7M311.20,421.4v-3.6M311.20,11.45v3.6M351.00,421.4v-3.6M351.00,11.45v3.6M390.80,421.4v-3.6M390.80,11.45v3.6M430.60,421.4v-3.6M430.60,11.45v3.6M470.40,421.4v-5.7M470.40,11.45v5.7M510.20,421.4v-3.6M510.20,11.45v3.6M550.00,421.4v-3.6M550.00,11.45v3.6M589.80,421.4v-3.6M589.80,11.45v3.6M629.60,421.4v-3.6M629.60,11.45v3.6M669.40,421.4v-5.7M669.40,11.45v5.7M709.20,421.4v-3.6M709.20,11.45v3.6M58.9,421.40h5.7M722.25,421.40h-5.7M58.9,407.73h3.6M722.25,407.73h-3.6M58.9,394.07h3.6M722.25,394.07h-3.6M58.9,380.40h3.6M722.25,380.40h-3.6M58.9,366.74h3.6M722.25,366.74h-3.6M58.9,353.07h5.7M722.25,353.07h-5.7M58.9,339.41h3.6M722.25,339.41h-3.6M58.9,325.75h3.6M722.25,325.75h-3.6M58.9,312.08h3.6M722.25,312.08h-3.6M58.9,298.41h3.6M722.25,298.41h-3.6M58.9,284.75h5.7M722.25,284.75h-5.7M58.9,271.08h3.6M722.25,271.08h-3.6M58.9,257.42h3.6M722.25,257.42h-3.6M58.9,243.75h3.6M722.25,243.75h-3.6M58.9,230.09h3.6M722.25,230.09h-3.6M58.9,216.42h5.7M722.25,216.42h-5.7M58.9,202.76h3.6M722.25,202.76h-3.6M58.9,189.09h3.6M722.25,189.09h-3.6M58.9,175.43h3.6M722.25,175.43h-3.6M58.9,161.76h3.6M722.25,161.76h-3.6M58.9,148.10h5.7M722.25,148.10h-5.7M58.9,134.43h3.6M722.25,134.43h-3.6M58.9,120.77h3.6M722.25,120.77h-3.6M58.9,107.10h3.6M722.25,107.10h-3.6M58.9,93.44h3.6M722.25,93.44h-3.6M58.9,79.77h5.7M722.25,79.77h-5.7M58.9,66.11h3.6M722.25,66.11h-3.6M58.9,52.44h3.6M722.25,52.44h-3.6M58.9,38.78h3.6M722.25,38.78h-3.6M58.9,25.11h3.6M722.25,25.11h-3.6M58.9,11.45h5.7M722.25,11.45h-5.7"/>
</g>
<g class="t">
<text transform="translate(54.80,428.70) scale(1,1.05)" font-size="19.5" text-anchor="end">0.0</text>
<text transform="translate(54.80,360.38) scale(1,1.05)" font-size="19.5" text-anchor="end">0.5</text>
<text transform="translate(54.80,292.05) scale(1,1.05)" font-size="19.5" text-anchor="end">1.0</text>
<text transform="translate(54.80,223.72) scale(1,1.05)" font-size="19.5" text-anchor="end">1.5</text>
<text transform="translate(54.80,155.40) scale(1,1.05)" font-size="19.5" text-anchor="end">2.0</text>
<text transform="translate(54.80,87.07) scale(1,1.05)" font-size="19.5" text-anchor="end">2.5</text>
<text transform="translate(54.80,18.75) scale(1,1.05)" font-size="19.5" text-anchor="end">3.0</text>
<text transform="translate(72.20,443.60) scale(1,1.05)" font-size="19.5" text-anchor="middle">0.20</text>
<text transform="translate(271.20,443.60) scale(1,1.05)" font-size="19.5" text-anchor="middle">0.25</text>
<text transform="translate(470.20,443.60) scale(1,1.05)" font-size="19.5" text-anchor="middle">0.30</text>
<text transform="translate(669.20,443.60) scale(1,1.05)" font-size="19.5" text-anchor="middle">0.35</text>
<text transform="translate(372.60,473.70) scale(1,1.05)" font-size="20" text-anchor="start">&#937;<tspan dx="3.6" dy="2.8" font-size="14">m0</tspan></text>
<text transform="translate(18,267.2) rotate(-90) scale(1,1.05)" font-size="19.5"><tspan font-style="italic">d</tspan><tspan font-style="italic" font-size="15" dy="3">&#963;</tspan><tspan dy="-3"> to </tspan><tspan letter-spacing="0.4">&#923;CDM</tspan></text>
<text transform="translate(574.90,373.30) scale(1,1.01)" font-size="19.5" text-anchor="start">CMB+SDSS 5</text>
<text transform="translate(574.90,403.20) scale(1,1.01)" font-size="19.5" text-anchor="start" style="fill:#808080">CMB+SDSS 7</text>
</g>
<path d="M528.3,366.7H566.6" stroke="#000" stroke-width="2.8" fill="none"/>
<path d="M528.3,396.6H566.6" stroke="#808080" stroke-width="2.6" fill="none"/>
</svg></body></html>
